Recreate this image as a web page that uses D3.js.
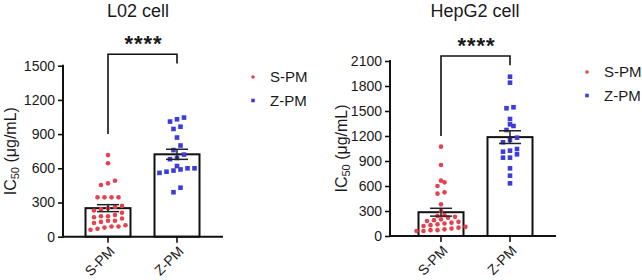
<!DOCTYPE html>
<html>
<head>
<meta charset="utf-8">
<script src="https://cdn.jsdelivr.net/npm/d3@7"></script>
<style>
  body { margin: 0; background: #fff; }
  text { font-family: "Liberation Sans", Arial, sans-serif; fill: #1a1a1a; }
</style>
</head>
<body>
<div id="chart"></div>
<script>
// data
const groups = ["S-PM", "Z-PM"];
const titles = ["L02 cell", "HepG2 cell"];

const l02SPM = [716, 644, 491, 468, 453, 345, 345, 345, 345, 270, 260, 250, 240, 230, 210,
                190, 180, 180, 170, 160, 140, 140, 130, 120, 100, 90, 90, 80, 70, 60];
const l02ZPM = [1045, 1030, 1010, 965, 945, 870, 800, 760, 720, 690, 680, 620, 600, 600,
                590, 580, 570, 560, 430, 390];
const hepSPM = [1072, 852, 664, 644, 600, 524, 508, 380, 300, 250, 240, 230, 220, 200, 190,
                180, 170, 160, 150, 140, 130, 120, 110, 100, 90, 80, 70, 70, 60, 60];
const hepZPM = [1912, 1840, 1545, 1533, 1404, 1340, 1320, 1272, 1180, 1152, 1125, 1044,
                1024, 1012, 980, 940, 940, 812, 724, 632];

const yTicksL02 = [0, 300, 600, 900, 1200, 1500];
const yTicksHep = [0, 300, 600, 900, 1200, 1500, 1800, 2100];

// significance brackets: [left leg end, right leg end, top]
const bracketL02 = [900, 1520, 1600];
const bracketHep = [1200, 2050, 2160];
const sigLabel = "****";

const colors = { "S-PM": "#e5414f", "Z-PM": "#3c3cdc" };

// layout of the two panels
const panels = [
  { title: titles[0], series: [l02SPM, l02ZPM], ticks: yTicksL02, bracket: bracketL02,
    axisX: 63, xEnd: 223, c0: 108, c1: 177, yTop: 65.7, yBot: 236.7, titleX: 138,
    labelX: 10, legendX: 253, legendY: 77 },
  { title: titles[1], series: [hepSPM, hepZPM], ticks: yTicksHep, bracket: bracketHep,
    axisX: 390, xEnd: 556, c0: 441, c1: 510, yTop: 61, yBot: 236, titleX: 475,
    labelX: 341, legendX: 587, legendY: 72 }
];

const svg = d3.select("#chart").append("svg")
    .attr("width", 642)
    .attr("height", 280);

// stacks points of similar value into centred rows, like prism scatter
function swarm(values, y, cx, step, rowH) {
  var sorted = values.slice().sort((a, b) => a - b);
  var rows = [];
  sorted.forEach(v => {
    var last = rows[rows.length - 1];
    if (last && Math.abs(y(last[0]) - y(v)) < rowH) last.push(v);
    else rows.push([v]);
  });
  var pts = [];
  rows.forEach(r => {
    r.forEach((v, i) => {
      pts.push({ v: v, x: cx + (i - (r.length - 1) / 2) * step, y: y(v) });
    });
  });
  return pts;
}

panels.forEach(p => {
  var g = svg.append("g");
  var yMax = p.ticks[p.ticks.length - 1];

  var y = d3.scaleLinear().domain([0, yMax]).range([p.yBot, p.yTop]);
  var x = d3.scalePoint().domain(groups).range([p.c0, p.c1]);
  var barW = 45;

  // title
  g.append("text")
    .attr("x", p.titleX).attr("y", 17)
    .attr("text-anchor", "middle")
    .style("font-size", "18px")
    .text(p.title);

  // bars + error bars
  groups.forEach((grp, i) => {
    var vals = p.series[i];
    var mean = d3.mean(vals);
    var sem = d3.deviation(vals) / Math.sqrt(vals.length);

    g.append("rect")
      .attr("x", x(grp) - barW / 2)
      .attr("y", y(mean))
      .attr("width", barW)
      .attr("height", y(0) - y(mean))
      .attr("fill", "#fff")
      .attr("stroke", "#111")
      .attr("stroke-width", 2);

    var pts = swarm(vals, y, x(grp), 7, 4.6);
    if (grp == "S-PM") {
      g.selectAll(null).data(pts).enter().append("circle")
        .attr("cx", d => d.x).attr("cy", d => d.y)
        .attr("r", 2.3)
        .attr("fill", colors[grp]);
    } else {
      g.selectAll(null).data(pts).enter().append("rect")
        .attr("x", d => d.x - 2.3).attr("y", d => d.y - 2.3)
        .attr("width", 4.6).attr("height", 4.6)
        .attr("fill", colors[grp]);
    }

    var eb = g.append("g").attr("stroke", "#222").attr("stroke-width", 1.5);
    eb.append("line")
      .attr("x1", x(grp)).attr("x2", x(grp))
      .attr("y1", y(mean - sem)).attr("y2", y(mean + sem));
    [mean - sem, mean + sem].forEach(v => {
      eb.append("line")
        .attr("x1", x(grp) - 11).attr("x2", x(grp) + 11)
        .attr("y1", y(v)).attr("y2", y(v));
    });
  });

  // axes
  var yAxis = d3.axisLeft(y).tickValues(p.ticks).tickFormat(d3.format("d"))
    .tickSize(5).tickPadding(3);
  var yg = g.append("g")
    .attr("transform", "translate(" + p.axisX + ",0)")
    .call(yAxis);
  yg.select(".domain").remove();
  yg.append("line")
    .attr("y1", p.yTop - 1).attr("y2", p.yBot + 1)
    .attr("stroke", "#111").attr("stroke-width", 2);
  yg.selectAll(".tick line").attr("stroke", "#111").attr("stroke-width", 1.6);
  yg.selectAll(".tick text")
    .style("font-size", "14px")
    .style("font-family", "Liberation Sans, Arial, sans-serif")
    .attr("fill", "#1a1a1a");

  var xg = g.append("g").attr("transform", "translate(0," + p.yBot + ")");
  xg.append("line")
    .attr("x1", p.axisX - 1).attr("x2", p.xEnd)
    .attr("stroke", "#111").attr("stroke-width", 2);
  groups.forEach(grp => {
    xg.append("line")
      .attr("x1", x(grp)).attr("x2", x(grp))
      .attr("y1", 0).attr("y2", 6)
      .attr("stroke", "#111").attr("stroke-width", 1.6);
    xg.append("text")
      .attr("transform", "translate(" + (x(grp) + 4) + ",12) rotate(-45)")
      .attr("text-anchor", "end")
      .attr("dy", "0.35em")
      .style("font-size", "14px")
      .text(grp);
  });

  // y label with subscript
  var lab = g.append("text")
    .attr("transform", "translate(" + p.labelX + "," + ((p.yTop + p.yBot) / 2) + ") rotate(-90)")
    .attr("text-anchor", "middle")
    .attr("dy", "0.35em")
    .style("font-size", "16px");
  lab.append("tspan").text("IC");
  lab.append("tspan").attr("baseline-shift", "-25%").style("font-size", "11px").text("50");
  lab.append("tspan").text(" (μg/mL)");

  // significance bracket
  var b = p.bracket;
  g.append("path")
    .attr("d", "M" + x(groups[0]) + "," + y(b[0]) + "V" + y(b[2]) +
               "H" + x(groups[1]) + "V" + y(b[1]))
    .attr("fill", "none")
    .attr("stroke", "#111")
    .attr("stroke-width", 1.6);
  g.append("text")
    .attr("x", (x(groups[0]) + x(groups[1])) / 2 + 1)
    .attr("y", y(b[2]) - 3)
    .attr("text-anchor", "middle")
    .style("font-size", "22px")
    .style("font-weight", "bold")
    .style("letter-spacing", "1px")
    .text(sigLabel);

  // legend
  groups.forEach((grp, i) => {
    var ly = p.legendY + i * 23.5;
    if (grp == "S-PM") {
      g.append("circle").attr("cx", p.legendX).attr("cy", ly).attr("r", 1.8)
        .attr("fill", colors[grp]);
    } else {
      g.append("rect").attr("x", p.legendX - 1.8).attr("y", ly - 1.8)
        .attr("width", 3.6).attr("height", 3.6).attr("fill", colors[grp]);
    }
    g.append("text")
      .attr("x", p.legendX + 17).attr("y", ly)
      .attr("dy", "0.35em")
      .style("font-size", "15px")
      .text(grp);
  });
});
</script>
</body>
</html>
